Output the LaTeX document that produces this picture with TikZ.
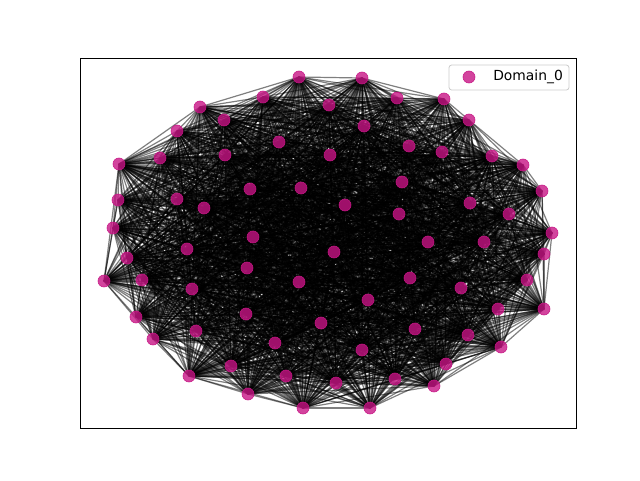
\documentclass[tikz,border=0pt]{standalone}
\usepackage{fontspec}
\setmainfont{DejaVu Sans}
\definecolor{dom}{HTML}{C71585}
\begin{document}
\begin{tikzpicture}[x=0.75pt,y=-0.75pt,
  edge/.style={black,opacity=0.5,line width=0.9pt},
  dot/.style={circle,fill=dom,draw=dom,fill opacity=0.8,draw opacity=0.9,line width=0.5pt,minimum size=9pt,inner sep=0pt},
  frame/.style={draw=black,line width=0.75pt},
  legendbox/.style={draw=black!20,fill=white,fill opacity=0.8,draw opacity=1,rounded corners=2pt,line width=0.6pt}]
\useasboundingbox (0,0) rectangle (640,480);
\foreach \px/\py [count=\k] in {
299/77,362/78,200/107,263/97,329/105,397/98,444/99,224/120,364/126,469/120,
177/131,279/142,409/146,442/152,225/155,330/155,492/156,119/164,160/158,523/165,
402/182,250/189,301/188,542/191,118/200,177/199,345/205,470/203,204/208,399/214,
509/214,113/228,552/233,253/237,428/242,484/242,127/258,187/249,334/252,544/254,
247/268,142/280,410/278,527/280,104/281,299/282,192/289,461/288,368/300,136/317,
246/314,498/309,544/309,321/323,196/331,415/329,468/335,153/339,275/343,362/350,
501/347,446/364,231/366,189/376,286/376,336/383,395/379,434/386,248/394,303/408,
370/408}
  \coordinate (n\k) at (\px,\py);
\pgfmathsetseed{12345}
\foreach \i in {1,...,70}{
  \pgfmathtruncatemacro\ii{\i+1}
  \foreach \j in {\ii,...,71}{
    \pgfmathparse{rnd}
    \ifdim\pgfmathresult pt<0.85pt
      \draw[edge] (n\i) -- (n\j);
    \fi
  }
}
\foreach \k in {1,...,71}
  \node[dot] (d\k) at (n\k) {};
\draw[frame] (80,58) rectangle (576,428);
\node[legendbox,minimum width=90pt,minimum height=18.75pt,inner sep=0pt] (leg) at (509,77.5) {};
\node[dot] (legdot) at (469,77) {};
\node[anchor=west,font=\fontsize{10.4pt}{12pt}\selectfont,inner sep=0pt] (legtxt) at (493,77) {Domain\_0};
\end{tikzpicture}
\end{document}
